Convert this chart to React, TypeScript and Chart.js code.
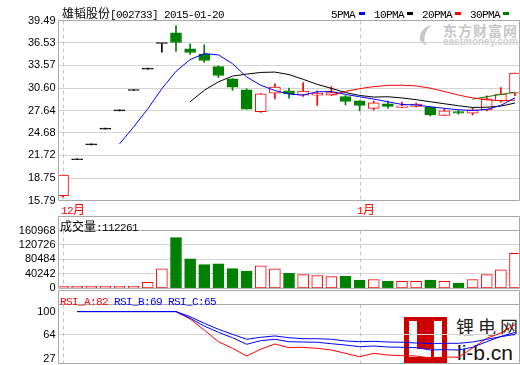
import React, { useEffect, useRef } from "react";
import { Chart, registerables } from "chart.js";

Chart.register(...registerables);

// ---- data ----
const opens = [16.41, 21.15, 23.12, 25.19, 27.6, 30.27, 33.09, 36.46, 37.87, 35.76, 35.07, 33.43, 31.81, 30.37, 27.5, 29.93, 30.23, 29.67, 29.67, 29.67, 29.48, 28.92, 27.9, 28.52, 28.03, 28.17, 28.09, 26.98, 27.51, 27.3, 27.73, 28.92, 29.93];
const closes = [19.13, 21.15, 23.12, 25.19, 27.6, 30.27, 33.09, 36.46, 36.59, 35.28, 34.22, 32.25, 30.72, 27.82, 29.84, 30.72, 29.84, 30.19, 29.93, 30.01, 28.82, 28.3, 28.65, 28.17, 28.26, 28.48, 27.07, 27.6, 27.3, 27.73, 29.18, 29.8, 32.56];
const highs = [19.13, 21.15, 23.12, 25.19, 27.6, 30.27, 33.09, 36.46, 38.83, 36.42, 36.29, 33.52, 31.85, 30.5, 29.9, 31.16, 30.59, 31.33, 30.23, 30.8, 29.62, 28.95, 28.88, 28.88, 28.75, 28.61, 28.1, 27.86, 27.64, 27.95, 29.58, 30.67, 32.56];
const lows = [16.25, 21.15, 23.12, 25.19, 27.6, 30.27, 33.09, 35.33, 35.41, 35.01, 33.96, 31.99, 30.27, 27.82, 27.4, 29.15, 29.27, 29.48, 28.3, 29.62, 28.39, 27.6, 27.73, 27.9, 28.0, 28.12, 26.94, 26.95, 27.17, 27.07, 27.6, 28.75, 29.58];
const volumes = [0, 0, 0, 0, 0, 0, 16700, 54400, 141300, 82100, 65950, 68650, 55190, 47900, 62450, 54400, 41700, 38200, 35500, 32800, 33650, 22900, 24700, 20200, 19400, 19400, 22900, 19400, 14800, 24700, 38200, 51700, 97450];
const ma5 = [null, null, null, null, 23.24, 25.47, 27.85, 30.52, 32.8, 34.34, 35.13, 34.96, 33.81, 32.06, 30.97, 30.27, 29.79, 29.68, 30.1, 30.14, 29.76, 29.45, 29.14, 28.79, 28.44, 28.37, 28.13, 27.92, 27.74, 27.64, 27.78, 28.32, 29.31];
const ma10 = [null, null, null, null, null, null, null, null, null, 28.79, 30.3, 31.41, 32.17, 32.43, 32.65, 32.7, 32.37, 31.75, 31.08, 30.55, 30.01, 29.62, 29.41, 29.45, 29.29, 29.07, 28.79, 28.53, 28.27, 28.04, 28.07, 28.22, 28.62];
const ma20 = [null, null, null, null, null, null, null, null, null, null, null, null, null, null, null, null, null, null, null, 29.67, 30.16, 30.51, 30.79, 30.94, 30.97, 30.88, 30.58, 30.14, 29.67, 29.3, 29.04, 28.92, 29.01];
const ma30 = [null, null, null, null, null, null, null, null, null, null, null, null, null, null, null, null, null, null, null, null, null, null, null, null, null, null, null, null, null, 29.13, 29.46, 29.75, 30.06];
const rsiA = [null, 100, 100, 100, 100, 100, 100, 100, 100, 88.6, 71.7, 53.7, 43.5, 31.7, 42.0, 50.2, 44.5, 45.1, 43.5, 40.9, 35.8, 30.6, 35.8, 33.2, 32.2, 31.7, 28.6, 30.2, 29.7, 44.0, 58.9, 67.1, 80.0];
const rsiB = [null, 100, 100, 100, 100, 100, 100, 100, 100, 89.7, 77.8, 68.2, 59.8, 49.7, 55.2, 57.4, 53.7, 53.2, 52.8, 50.6, 48.6, 46.0, 47.1, 45.5, 45.1, 44.5, 40.9, 41.4, 40.9, 45.1, 53.7, 61.7, 68.0];
const rsiC = [null, 100, 100, 100, 100, 100, 100, 100, 100, 92.2, 82.0, 72.8, 65.1, 57.4, 60.5, 62.5, 59.8, 58.3, 58.3, 57.4, 54.8, 53.7, 54.3, 53.2, 52.8, 51.7, 50.9, 51.2, 51.2, 53.2, 57.4, 61.4, 65.0];
const priceTicks = [15.79, 18.75, 21.72, 24.68, 27.64, 30.6, 33.57, 36.53, 39.49];
const volumeTicks = [0, 40242, 80484, 120726, 160968];
const rsiTicks = [27, 64, 100];
const monthStarts = [0, 21];
const monthLabels = ["12月", "1月"];
const title = "雄韬股份[002733] 2015-01-20";
const legendNames = ["5PMA", "10PMA", "20PMA", "30PMA"];
const volumeTitle = "成交量:112261";
const rsiNames = ["RSI_A:82", "RSI_B:69", "RSI_C:65"];

const RED = "#ff0000";
const GREEN = "#008000";
const BLUE = "#0000ff";
const BLACK = "#000000";
const maColors = [BLUE, BLACK, RED, GREEN];

const X_MIN = -0.3186;
const X_MAX = 32.3186;
const AXIS_W = 58.5;
const tickFont = { family: "'Liberation Sans', Arial, sans-serif", size: 11 };

const idx = closes.map((_, i) => i);
const isUp = (i: number) => closes[i] > opens[i];
const isDown = (i: number) => closes[i] < opens[i];
const candleColor = (i: number) => (isUp(i) ? RED : isDown(i) ? GREEN : BLACK);

function frame(header: number) {
  return {
    id: "frame",
    beforeDatasetsDraw(chart: any) {
      const { ctx, chartArea: a, scales } = chart;
      ctx.save();
      ctx.strokeStyle = "#c4c4c4";
      ctx.lineWidth = 1;
      ctx.setLineDash([4, 3]);
      for (const m of monthStarts) {
        const x = Math.round(scales.x.getPixelForValue(m)) + 0.5;
        ctx.beginPath();
        ctx.moveTo(x, a.top);
        ctx.lineTo(x, a.bottom);
        ctx.stroke();
      }
      ctx.restore();
    },
    afterDraw(chart: any) {
      const { ctx, chartArea: a } = chart;
      const top = a.top - header;
      ctx.save();
      ctx.strokeStyle = "#a8a8a8";
      ctx.lineWidth = 1;
      ctx.beginPath();
      ctx.moveTo(a.left, top);
      ctx.lineTo(a.right, top);
      ctx.moveTo(a.left, a.top);
      ctx.lineTo(a.right, a.top);
      ctx.moveTo(a.left, a.bottom);
      ctx.lineTo(a.right, a.bottom);
      ctx.moveTo(a.left, top);
      ctx.lineTo(a.left, a.bottom);
      ctx.moveTo(a.right, top);
      ctx.lineTo(a.right, a.bottom);
      ctx.stroke();
      ctx.restore();
    },
  };
}

function yAxis(min: number, max: number, ticks: number[], fmt: (v: number) => string, gridOn: (v: number) => boolean) {
  return {
    type: "linear",
    min,
    max,
    afterFit: (s: any) => {
      s.width = AXIS_W;
    },
    afterBuildTicks: (s: any) => {
      s.ticks = ticks.map((v) => ({ value: v }));
    },
    ticks: { autoSkip: false, padding: 3, color: "#000", font: tickFont, callback: (v: any) => fmt(Number(v)) },
    grid: { drawTicks: false, lineWidth: 1, color: (c: any) => (c.tick && gridOn(c.tick.value) ? "#d4d4d4" : "rgba(0,0,0,0)") },
    border: { display: false },
  };
}

const xAxis = { type: "linear", min: X_MIN, max: X_MAX, display: false, offset: false, grid: { offset: false } };

const baseOptions = (padding: any) => ({
  responsive: false,
  animation: false,
  devicePixelRatio: 1,
  events: [],
  layout: { padding },
  plugins: { legend: { display: false }, tooltip: { enabled: false }, title: { display: false } },
  datasets: { bar: { grouped: false } },
});

const lineSet = (data: (number | null)[], color: string, order: number) => ({
  type: "line",
  data: idx.filter((i) => data[i] !== null).map((i) => ({ x: i, y: data[i] })),
  borderColor: color,
  borderWidth: 1,
  pointRadius: 0,
  tension: 0,
  fill: false,
  order,
});

const CJK_RE = /([\u3000-\u303f\u4e00-\u9fff\uff00-\uffef]+)/;
function Mixed({ text, color, left, top }: { text: string; color: string; left: number; top: number }) {
  const parts = text.split(CJK_RE).filter((p) => p.length > 0);
  return (
    <div style={{ position: "absolute", left, top, color, whiteSpace: "pre", lineHeight: "13px", height: 13 }}>
      {parts.map((p, k) =>
        CJK_RE.test(p) ? (
          <span key={k} style={{ fontFamily: "'Noto Sans CJK SC'", fontSize: 12 }}>{p}</span>
        ) : (
          <span key={k} style={{ fontFamily: "'Liberation Mono', monospace", fontSize: 11, letterSpacing: "-0.6px" }}>{p}</span>
        )
      )}
    </div>
  );
}

export default function App() {
  const mainRef = useRef<HTMLCanvasElement>(null);
  const volRef = useRef<HTMLCanvasElement>(null);
  const rsiRef = useRef<HTMLCanvasElement>(null);

  useEffect(() => {
    const charts: Chart[] = [];
    const main = new Chart(mainRef.current as HTMLCanvasElement, {
      type: "bar",
      data: {
        datasets: [
          {
            type: "bar",
            data: idx.map((i) => ({ x: i, y: [lows[i], highs[i]] })),
            backgroundColor: idx.map(candleColor),
            borderWidth: 0,
            barThickness: 1,
            minBarLength: 1,
            order: 3,
          },
          {
            type: "bar",
            data: idx.map((i) => ({ x: i, y: [opens[i], closes[i]] })),
            backgroundColor: idx.map((i) => (isUp(i) ? "#ffffff" : candleColor(i))),
            borderColor: idx.map(candleColor),
            borderWidth: 1,
            borderSkipped: false,
            barThickness: 11,
            minBarLength: 1,
            order: 2,
          },
          lineSet(ma5, maColors[0], 1),
          lineSet(ma10, maColors[1], 1),
          lineSet(ma20, maColors[2], 1),
          lineSet(ma30, maColors[3], 1),
        ] as any,
      },
      options: {
        ...baseOptions({ top: 20.5, bottom: 14.5, left: 0, right: 0.5 }),
        scales: {
          x: xAxis,
          y: yAxis(priceTicks[0], priceTicks[priceTicks.length - 1], priceTicks, (v) => v.toFixed(2), (v) => v > priceTicks[0] && v < priceTicks[priceTicks.length - 1]),
        },
      } as any,
      plugins: [frame(0)],
    });
    charts.push(main);

    const vol = new Chart(volRef.current as HTMLCanvasElement, {
      type: "bar",
      data: {
        datasets: [
          {
            type: "bar",
            data: idx.map((i) => ({ x: i, y: volumes[i] })),
            backgroundColor: idx.map((i) => (isDown(i) ? GREEN : "#ffffff")),
            borderColor: idx.map((i) => (isDown(i) ? GREEN : RED)),
            borderWidth: 1,
            borderSkipped: false,
            barThickness: 11,
            minBarLength: 2,
          },
        ] as any,
      },
      options: {
        ...baseOptions({ top: 16.5, bottom: 7.5, left: 0, right: 0.5 }),
        scales: {
          x: xAxis,
          y: yAxis(volumeTicks[0], volumeTicks[volumeTicks.length - 1], volumeTicks, (v) => String(v), (v) => v > volumeTicks[0] && v < volumeTicks[volumeTicks.length - 1]),
        },
      } as any,
      plugins: [frame(14)],
    });
    charts.push(vol);

    const rsi = new Chart(rsiRef.current as HTMLCanvasElement, {
      type: "line",
      data: {
        datasets: [lineSet(rsiB, BLUE, 1), lineSet(rsiC, BLUE, 1), lineSet(rsiA, RED, 2)] as any,
      },
      options: {
        ...baseOptions({ top: 14.5, bottom: 11.5, left: 0, right: 0.5 }),
        scales: {
          x: xAxis,
          y: yAxis(20.15, 110.9, rsiTicks, (v) => String(v), (v) => v === 64),
        },
      } as any,
      plugins: [frame(14)],
    });
    charts.push(rsi);

    return () => charts.forEach((c) => c.destroy());
  }, []);

  const legendX = [331, 374, 422, 470];
  const markerX = [359, 407, 455, 503];

  return (
    <div style={{ position: "fixed", left: 0, top: 0, width: 520, height: 365, overflow: "hidden", background: "#ffffff" }}>
      {/* east money watermark */}
      <div style={{ position: "absolute", left: 420, top: 25, width: 16, height: 20, borderLeft: "5px solid #c8c8c8", borderRadius: "60% 0 0 60%", transform: "skewX(-15deg)" }} />
      <div style={{ position: "absolute", left: 443, top: 22, fontFamily: "'Noto Sans CJK SC'", fontWeight: 700, fontSize: 14, letterSpacing: "1px", color: "#c8c8c8", lineHeight: "16px", whiteSpace: "nowrap" }}>东方财富网</div>
      <div style={{ position: "absolute", left: 443, top: 37, fontFamily: "'Liberation Sans', Arial", fontWeight: 700, fontSize: 10, color: "#cfcfcf", lineHeight: "10px", whiteSpace: "nowrap" }}>eastmoney.com</div>

      {/* li-b.cn watermark */}
      <div style={{ position: "absolute", left: 404, top: 317, width: 43, height: 46, background: "#cc0000" }} />
      <div style={{ position: "absolute", left: 409, top: 321, width: 8, height: 36, background: "#ffffff" }} />
      <div style={{ position: "absolute", left: 409, top: 349, width: 22, height: 8, background: "#ffffff" }} />
      <div style={{ position: "absolute", left: 434, top: 321, width: 8, height: 36, background: "#ffffff" }} />
      <div style={{ position: "absolute", left: 456, top: 315, fontFamily: "'Noto Sans CJK SC'", fontSize: 18, letterSpacing: "4px", color: "#222", lineHeight: "22px", whiteSpace: "nowrap" }}>锂电网</div>
      <div style={{ position: "absolute", left: 457, top: 342, fontFamily: "'Liberation Sans', Arial", fontSize: 21, color: "#111", lineHeight: "22px", whiteSpace: "nowrap" }}>li-b.cn</div>

      <canvas ref={mainRef} width={520} height={215} style={{ position: "absolute", left: 0, top: 0, width: 520, height: 215 }} />
      <canvas ref={volRef} width={520} height={84} style={{ position: "absolute", left: 0, top: 214, width: 520, height: 84 }} />
      <canvas ref={rsiRef} width={520} height={85} style={{ position: "absolute", left: 0, top: 290, width: 520, height: 85 }} />

      <Mixed text={title} color="#000" left={62} top={6} />
      {legendNames.map((n, k) => (
        <React.Fragment key={n}>
          <Mixed text={n} color="#000" left={legendX[k]} top={6} />
          <div style={{ position: "absolute", left: markerX[k], top: 12, width: 6, height: 3, background: maColors[k] }} />
        </React.Fragment>
      ))}
      <Mixed text={monthLabels[0]} color={RED} left={61} top={202} />
      <Mixed text={monthLabels[1]} color={RED} left={357} top={202} />
      <Mixed text={volumeTitle} color="#000" left={60} top={219} />
      <Mixed text={rsiNames[0]} color={RED} left={60} top={293} />
      <Mixed text={rsiNames[1]} color={BLUE} left={114} top={293} />
      <Mixed text={rsiNames[2]} color={BLUE} left={168} top={293} />
    </div>
  );
}
